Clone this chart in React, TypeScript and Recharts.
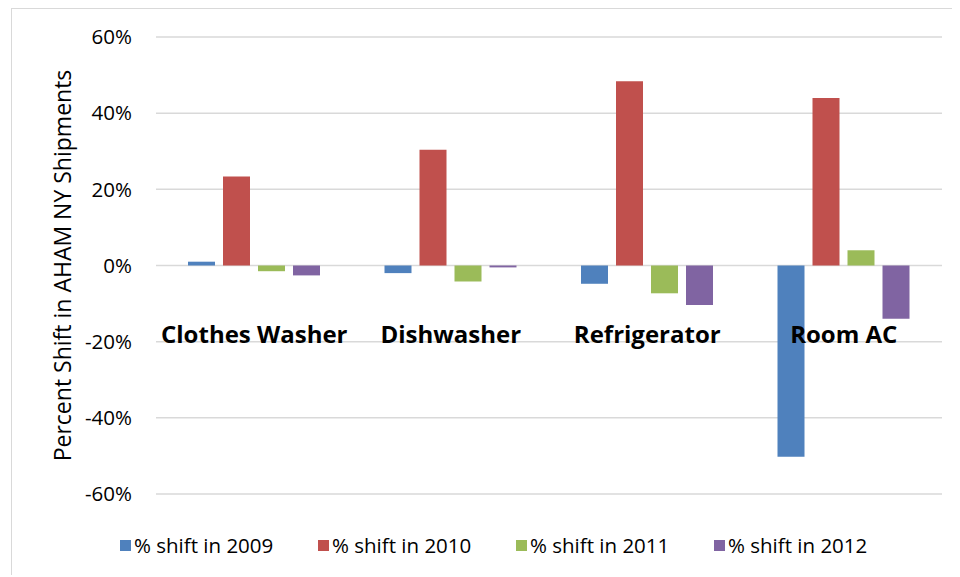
import React from 'react';
import { BarChart, Bar, XAxis, YAxis, CartesianGrid, Legend } from 'recharts';

const categories = ['Clothes Washer', 'Dishwasher', 'Refrigerator', 'Room AC'];
const shift2009 = [1.0, -2.0, -4.8, -50.2];
const shift2010 = [23.4, 30.4, 48.4, 44.0];
const shift2011 = [-1.5, -4.2, -7.3, 4.0];
const shift2012 = [-2.6, -0.5, -10.4, -14.0];
const yTicks = [-60, -40, -20, 0, 20, 40, 60];

const series = [
  { key: 's2009', name: '% shift in 2009', color: '#4F81BD', values: shift2009 },
  { key: 's2010', name: '% shift in 2010', color: '#C0504D', values: shift2010 },
  { key: 's2011', name: '% shift in 2011', color: '#9BBB59', values: shift2011 },
  { key: 's2012', name: '% shift in 2012', color: '#8064A2', values: shift2012 },
];

const data = categories.map((name, i) => {
  const row: Record<string, string | number> = { name };
  series.forEach((s) => {
    row[s.key] = s.values[i];
  });
  return row;
});

const font = '"Open Sans", Lato, sans-serif';

const renderCategoryTick = (props: any) => {
  const { x, payload } = props;
  return (
    <text x={x} y={335} textAnchor="middle" fontFamily={font} fontWeight={700} fontSize={24} fill="#000">
      {payload.value}
    </text>
  );
};

const LegendContent = () => (
  <div style={{ height: 40, display: 'flex', alignItems: 'center', paddingLeft: 112, fontFamily: font, fontSize: 20.5 }}>
    {series.map((s) => (
      <div key={s.key} style={{ display: 'flex', alignItems: 'center', width: 198 }}>
        <span style={{ width: 11, height: 11, background: s.color, marginRight: 3, display: 'inline-block' }} />
        <span>{s.name}</span>
      </div>
    ))}
  </div>
);

const App: React.FC = () => {
  return (
    <div style={{ position: 'relative', width: 952, height: 569, background: '#fff' }}>
      <div
        style={{
          position: 'absolute',
          left: 3,
          top: 0,
          right: 0,
          bottom: 2,
          borderTop: '1.5px solid #d9d9d9',
          borderLeft: '1.5px solid #d9d9d9',
        }}
      />
      <BarChart
        width={952}
        height={569}
        data={data}
        margin={{ top: 29, right: 18, left: 0, bottom: 42 }}
        barSize={27}
        barGap={8}
      >
        <CartesianGrid vertical={false} stroke="#d9d9d9" strokeWidth={1.5} />
        <XAxis dataKey="name" height={1} axisLine={false} tickLine={false} tick={renderCategoryTick} interval={0} />
        <YAxis
          width={148}
          domain={[-60, 60]}
          ticks={yTicks}
          axisLine={false}
          tickLine={false}
          tickSize={0}
          tickMargin={24}
          tickFormatter={(v: number) => `${v}%`}
          tick={{ fill: '#000', fontFamily: font, fontSize: 20.5 }}
          label={({ viewBox }: any) => {
            const cx = viewBox.x + 54;
            const cy = viewBox.y + viewBox.height / 2;
            return (
              <text
                x={cx}
                y={cy}
                transform={`rotate(-90 ${cx} ${cy})`}
                textAnchor="middle"
                dominantBaseline="central"
                fontFamily={font}
                fontSize={23}
                fill="#000"
              >
                Percent Shift in AHAM NY Shipments
              </text>
            );
          }}
        />
        <Legend content={<LegendContent />} wrapperStyle={{ top: 517, bottom: 'auto', left: 0, width: 952 }} />
        {series.map((s) => (
          <Bar key={s.key} dataKey={s.key} name={s.name} fill={s.color} isAnimationActive={false} />
        ))}
      </BarChart>
    </div>
  );
};

export default App;
